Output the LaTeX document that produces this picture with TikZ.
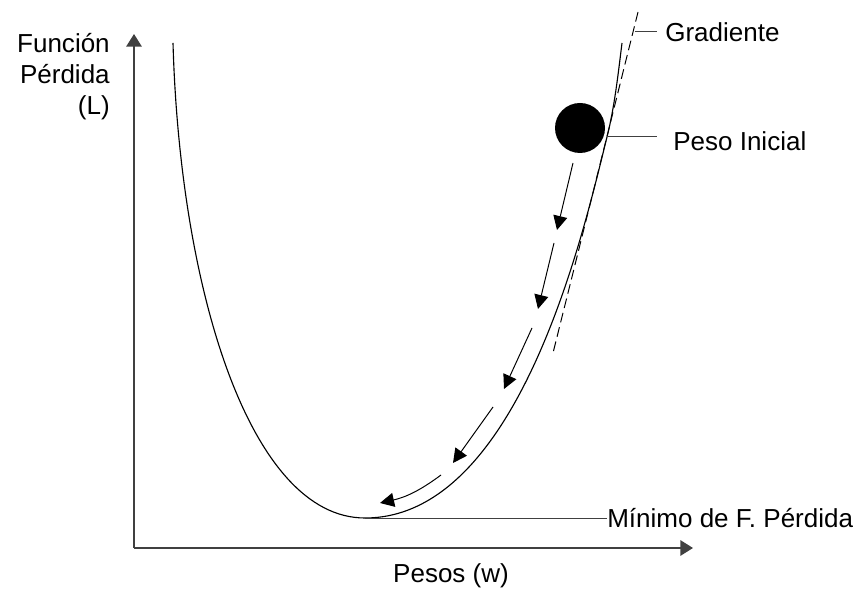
\documentclass[tikz,border=0pt]{standalone}
\usepackage{fontspec}
\setmainfont{Liberation Sans}
\usetikzlibrary{arrows.meta,calc}

\begin{document}
\begin{tikzpicture}[x=0.025cm, y=0.025cm, >={Triangle[length=10pt,width=10pt]},
    lbl/.style={font=\fontsize{18.5}{22}\selectfont, inner sep=0pt},
    paso/.style={->, line width=0.7pt}]
    \useasboundingbox (0,0) rectangle (866,590);

    % ejes
    \coordinate (O) at (134,42);
    \coordinate (Ytip) at (134,556);
    \coordinate (Xtip) at (693,42);
    \draw[-{Triangle[length=9pt,width=11pt]}, line width=1.1pt, black!75] (O) -- (Ytip);
    \draw[-{Triangle[length=9pt,width=11pt]}, line width=1.1pt, black!75] (O) -- (Xtip);

    \node[lbl, align=right, anchor=east] (ylab) at (110,513) {Función\\Pérdida\\(L)};
    \node[lbl] (xlab) at (451,14) {Pesos (w)};

    % funcion de perdida
    \coordinate (Min) at (365,72);
    \coordinate (T) at (607,453);
    \draw[line width=0.8pt] (173,547) .. controls (180,300) and (250,72) .. (Min)
        .. controls (520,72) and (584.5,363) .. (T)
        .. controls (614.5,483) and (618,515) .. (622,547);

    % gradiente
    \coordinate (Gtop) at (638,578);
    \coordinate (Gbot) at (553,237);
    \coordinate (Gtick) at (635,558);
    \draw[dash pattern=on 7pt off 3.5pt, line width=0.7pt] (Gtop) -- (Gbot);
    \node[lbl, anchor=west, inner xsep=5.7pt] (grad) at (657,558) {Gradiente};
    \draw[line width=0.7pt, black!75] (Gtick) -- (grad.west);

    % peso inicial
    \node[circle, fill, inner sep=0pt, minimum size=1.25cm] (bola) at (580,462) {};
    \node[lbl, anchor=west] (peso) at (673,449) {Peso Inicial};
    \draw[line width=0.7pt, black!75] (T) -- ($(T -| peso.west)+(-16,0)$);

    % minimo
    \node[lbl, anchor=west] (min) at (607,72) {Mínimo de F. Pérdida};
    \draw[line width=0.7pt, black!75] (Min) -- (min.west);

    % pasos de descenso
    \foreach \a/\b in {{(573,427)}/{(557,360)}, {(554,347)}/{(538,281)}, {(532,262)}/{(504,201)}, {(493,183)}/{(453,127)}}
        \draw[paso] \a -- \b;
    \draw[paso] (441,115) to[bend left=12] (380,87);
\end{tikzpicture}
\end{document}
